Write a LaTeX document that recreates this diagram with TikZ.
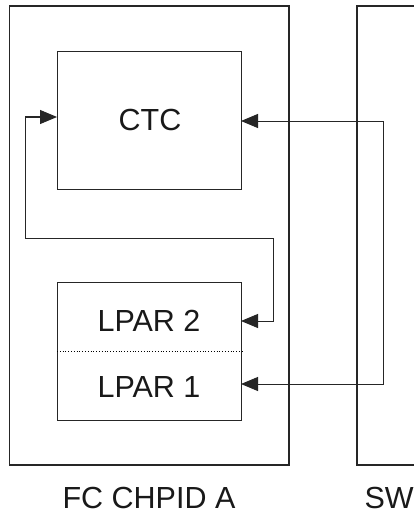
\documentclass[tikz,border=0pt]{standalone}
\usepackage{fontspec}
\setmainfont{Liberation Sans}
\usetikzlibrary{arrows.meta}
\begin{document}
\begin{tikzpicture}[x=1pt,y=-1pt,
  frame/.style={draw=black!85, line width=1.1pt},
  box/.style={draw=black!85, line width=1pt, minimum width=184pt, minimum height=138pt, inner sep=0pt, anchor=north west},
  lbl/.style={font=\fontsize{30.5}{31}\selectfont, text=black!90},
  link/.style={draw=black!85, line width=1pt, {Triangle[length=17pt,width=14pt]}-{Triangle[length=17pt,width=14pt]}}]
\useasboundingbox (0,0) rectangle (413,516);
\fill[white] (0,0) rectangle (413,516);
% outer frames
\draw[frame] (9.5,6) rectangle (289,465);
\draw[frame] (420,6) -- (357,6) -- (357,465) -- (420,465);
% inner boxes
\node[box] (ctc) at (57,51) {};
\node[lbl] at (150,120) {CTC};
\node[box] (lpar) at (57,282) {};
\coordinate (lp2) at (241,321);
\coordinate (lp1) at (241,384);
\draw[dotted, line width=0.8pt] (lpar.west |- 0,351) -- (lpar.east |- 0,351);
\node[lbl] (l2) at (149,321) {LPAR 2};
\node[lbl] (l1) at (149,387) {LPAR 1};
% connectors
\coordinate (ctcw) at (57,117);
\coordinate (ctce) at (241,121);
\draw[link] (ctcw) -- (25,117) -- (25,238) -- (273,238) -- (273,321) -- (lp2);
\draw[link] (ctce) -- (383,121) -- (383,384) -- (lp1);
% labels
\node[lbl] (fc) at (149,498) {FC CHPID A};
\node[lbl, anchor=west] (sw) at (361,498) {SW};
\end{tikzpicture}
\end{document}
